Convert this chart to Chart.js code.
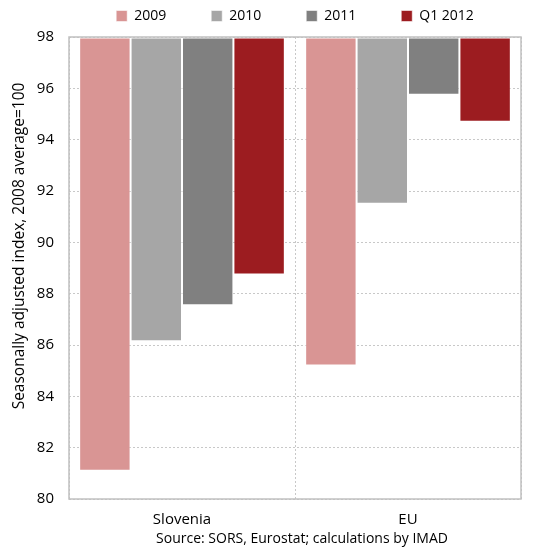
<!DOCTYPE html>
<html>
<head>
<meta charset="utf-8">
<script src="https://cdn.jsdelivr.net/npm/chart.js@4/dist/chart.umd.min.js"></script>
<style>
  html, body { margin: 0; padding: 0; background: #fff; }
  #wrap { width: 559px; height: 551px; }
</style>
</head>
<body>
<div id="wrap"><canvas id="c" width="559" height="551"></canvas></div>
<script>
// Regions compared
const regions = ['Slovenia', 'EU'];

// Seasonally adjusted index (2008 average = 100)
const years = ['2009', '2010', '2011', 'Q1 2012'];
const values2009 = [81.1, 85.2];
const values2010 = [86.15, 91.5];
const values2011 = [87.55, 95.75];
const valuesQ12012 = [88.75, 94.7];

const yTicks = [80, 82, 84, 86, 88, 90, 92, 94, 96, 98];

const seriesColors = ['#d99594', '#a6a6a6', '#808080', '#9c1c20'];
const seriesValues = [values2009, values2010, values2011, valuesQ12012];

const FONT = 'Open Sans';
const AXIS_TITLE = 'Seasonally adjusted index, 2008 average=100';
const SOURCE = 'Source: SORS, Eurostat; calculations by IMAD';

// Solid frame around the plot area
const frame = {
  id: 'frame',
  afterDatasetsDraw(chart) {
    const { ctx, chartArea: a } = chart;
    ctx.save();
    ctx.strokeStyle = '#c0c0c0';
    ctx.lineWidth = 1.5;
    ctx.strokeRect(a.left, a.top, a.right - a.left, a.bottom - a.top);
    ctx.restore();
  }
};

// Vertical axis caption and source line
const captions = {
  id: 'captions',
  afterDraw(chart) {
    const { ctx, chartArea: a } = chart;
    ctx.save();
    ctx.fillStyle = '#000';
    ctx.textAlign = 'center';
    ctx.textBaseline = 'middle';
    ctx.font = '14px "' + FONT + '"';
    ctx.fillText(SOURCE, (a.left + a.right) / 2 + 7, 539);
    ctx.translate(20, 246);
    ctx.rotate(-Math.PI / 2);
    ctx.font = '15.5px "' + FONT + '"';
    ctx.fillText(AXIS_TITLE, 0, 0);
    ctx.restore();
  }
};

new Chart(document.getElementById('c'), {
  type: 'bar',
  data: {
    labels: regions,
    datasets: years.map((y, i) => ({
      label: y,
      data: seriesValues[i],
      base: 98,
      backgroundColor: seriesColors[i],
      borderColor: 'rgba(255,255,255,0.55)',
      borderWidth: 1,
      borderSkipped: false,
      categoryPercentage: 0.91,
      barPercentage: 1
    }))
  },
  options: {
    responsive: false,
    animation: false,
    layout: { padding: { left: 0, right: 38, top: -36, bottom: 0 } },
    plugins: {
      legend: {
        position: 'top',
        fullSize: false,
        labels: {
          font: { family: FONT, size: 14 },
          color: '#000',
          boxWidth: 11,
          boxHeight: 11,
          padding: 45
        }
      },
      tooltip: { enabled: false }
    },
    scales: {
      x: {
        grid: {
          display: true,
          offset: true,
          color: '#c8c8c8',
          lineWidth: 1,
          drawTicks: false
        },
        border: { display: false, dash: [2, 2] },
        ticks: { font: { family: FONT, size: 15 }, color: '#000', padding: 12 },
        afterFit(s) { s.height = 52; }
      },
      // thin spacer between the legend and the plot
      xTop: {
        type: 'category',
        position: 'top',
        grid: { display: false, drawTicks: false },
        border: { display: false },
        ticks: { display: false },
        afterFit(s) { s.height = 4; }
      },
      y: {
        min: 80,
        max: 98,
        afterBuildTicks(s) { s.ticks = yTicks.map(v => ({ value: v })); },
        grid: { color: '#c8c8c8', lineWidth: 1, drawTicks: false },
        border: { display: false, dash: [2, 2] },
        ticks: { font: { family: FONT, size: 15 }, color: '#000', padding: 15 },
        afterFit(s) { s.width = 69; }
      }
    }
  },
  plugins: [frame, captions]
});
</script>
</body>
</html>
